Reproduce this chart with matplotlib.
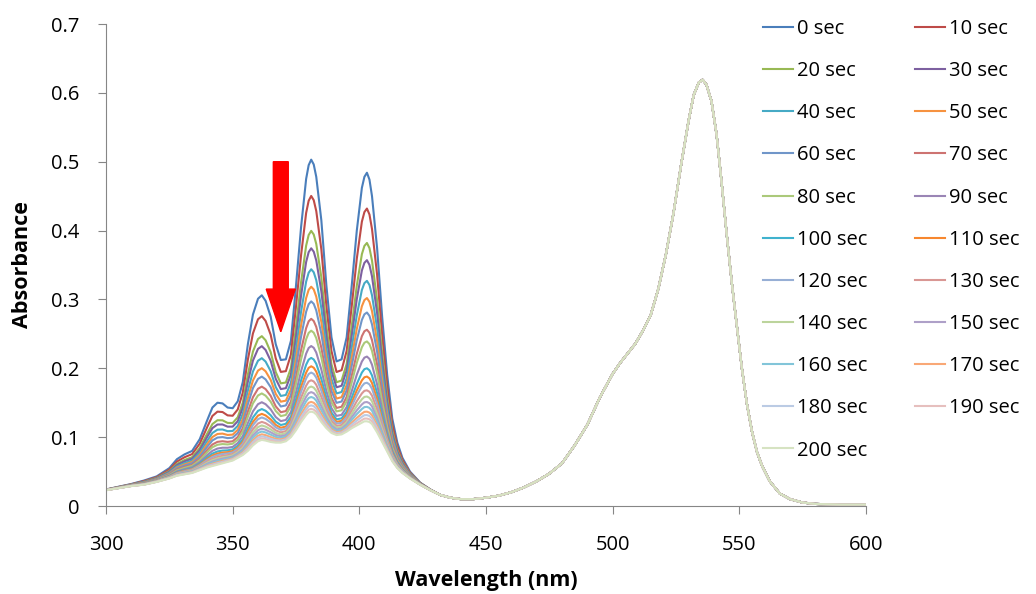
import matplotlib.pyplot as plt
import numpy as np

plt.rcParams['font.family'] = ['Open Sans', 'DejaVu Sans']

# wavelength grid (nm)
wavelength = [300, 305, 310, 315, 320, 325, 328, 331, 334, 337, 340, 342, 344, 346, 348, 350,
              352, 354, 356, 358, 360, 361.5, 363, 365, 367, 369, 371, 373, 375, 377, 379, 380,
              381, 382, 383, 385, 387, 389, 391, 393, 395, 397, 399, 401, 402, 403, 404, 405,
              407, 409, 411, 413, 415, 417, 420, 424, 428, 432, 436, 440, 445, 450, 455, 460,
              465, 470, 475, 480, 485, 490, 495, 500, 503, 506, 509, 512, 515, 518, 521, 524,
              527, 530, 532, 534, 535.5, 537, 539, 541, 543, 545, 547, 549, 551, 553, 555, 557,
              559, 562, 566, 570, 575, 580, 590, 600]

# spectrum at 0 sec
abs_0sec = [0.024, 0.028, 0.032, 0.037, 0.043, 0.055, 0.068, 0.075, 0.080, 0.097, 0.125, 0.143, 0.150, 0.149, 0.143, 0.142,
            0.152, 0.180, 0.235, 0.278, 0.301, 0.306, 0.298, 0.275, 0.235, 0.212, 0.213, 0.240, 0.320, 0.405, 0.475, 0.495,
            0.503, 0.496, 0.478, 0.415, 0.320, 0.245, 0.210, 0.213, 0.245, 0.320, 0.400, 0.462, 0.478, 0.484, 0.474, 0.450,
            0.375, 0.275, 0.190, 0.127, 0.092, 0.070, 0.050, 0.034, 0.024, 0.016, 0.012, 0.010, 0.010, 0.012, 0.015, 0.020,
            0.027, 0.036, 0.047, 0.062, 0.088, 0.118, 0.158, 0.192, 0.208, 0.222, 0.236, 0.255, 0.277, 0.315, 0.365, 0.425,
            0.495, 0.560, 0.597, 0.615, 0.619, 0.612, 0.588, 0.540, 0.470, 0.395, 0.325, 0.262, 0.200, 0.148, 0.108, 0.078,
            0.058, 0.036, 0.018, 0.010, 0.005, 0.003, 0.002, 0.002]

# spectrum at 200 sec
abs_200sec = [0.023, 0.026, 0.029, 0.031, 0.035, 0.040, 0.044, 0.046, 0.048, 0.052, 0.056, 0.058, 0.060, 0.062, 0.064, 0.066,
              0.070, 0.074, 0.080, 0.088, 0.094, 0.096, 0.095, 0.093, 0.092, 0.092, 0.094, 0.100, 0.110, 0.122, 0.132, 0.136,
              0.137, 0.136, 0.133, 0.122, 0.113, 0.106, 0.103, 0.104, 0.108, 0.113, 0.117, 0.121, 0.123, 0.123, 0.122, 0.119,
              0.107, 0.093, 0.079, 0.065, 0.055, 0.048, 0.040, 0.031, 0.023, 0.016, 0.012, 0.010, 0.010, 0.012, 0.015, 0.020,
              0.027, 0.036, 0.047, 0.062, 0.088, 0.118, 0.158, 0.192, 0.208, 0.222, 0.236, 0.255, 0.277, 0.315, 0.365, 0.425,
              0.495, 0.560, 0.597, 0.615, 0.619, 0.612, 0.588, 0.540, 0.470, 0.395, 0.325, 0.262, 0.200, 0.148, 0.108, 0.078,
              0.058, 0.036, 0.018, 0.010, 0.005, 0.003, 0.002, 0.002]

times = [0, 10, 20, 30, 40, 50, 60, 70, 80, 90, 100, 110, 120, 130, 140, 150, 160, 170, 180, 190, 200]
# absorbance of the 403 nm band for each time
peak_403 = [0.484, 0.432, 0.382, 0.357, 0.327, 0.302, 0.281, 0.256, 0.239, 0.217, 0.200,
            0.188, 0.179, 0.168, 0.159, 0.151, 0.144, 0.137, 0.132, 0.127, 0.123]

colors = ['#4A7EBB', '#BE4B48', '#98B954', '#7D60A0', '#46AAC5', '#F69240',
          '#7096C9', '#CD7371', '#ABC97A', '#9A85B5', '#3FB2CE', '#F7872E',
          '#97AFD5', '#D99794', '#BCD49C', '#AEA0C8', '#82C5D9', '#F9A876',
          '#BBCBE4', '#E6BFBE', '#D6E3C2']

x_ticks = [300, 350, 400, 450, 500, 550, 600]
y_ticks = [0, 0.1, 0.2, 0.3, 0.4, 0.5, 0.6, 0.7]
y_labels = ['0', '0.1', '0.2', '0.3', '0.4', '0.5', '0.6', '0.7']

wl = np.array(wavelength)
hi = np.array(abs_0sec)
lo = np.array(abs_200sec)
i403 = wavelength.index(403)

fig = plt.figure(figsize=(10.36, 5.94), dpi=100)
ax = fig.add_axes([106/1036, 1 - 506/594, 760/1036, 482/594])

lines = []
for t, p, c in zip(times, peak_403, colors):
    frac = (p - lo[i403]) / (hi[i403] - lo[i403])
    ln, = ax.plot(wl, lo + (hi - lo) * frac, color=c, lw=1.5, label=str(t) + ' sec')
    lines.append(ln)

ax.arrow(369, 0.50, 0, -0.247, width=5.9, head_width=11.5, head_length=0.062,
         length_includes_head=True, color='#FF0000', zorder=5)

ax.set_xlim(300, 600)
ax.set_ylim(0, 0.7)
ax.set_xticks(x_ticks)
ax.set_yticks(y_ticks)
ax.set_yticklabels(y_labels)
for s in ['top', 'right']:
    ax.spines[s].set_visible(False)
for s in ['left', 'bottom']:
    ax.spines[s].set_color('#868686')
ax.tick_params(axis='both', colors='#868686', labelcolor='black', labelsize=14.5, length=6)
ax.tick_params(axis='y', pad=13)
ax.tick_params(axis='x', pad=15)
ax.set_xlabel('Wavelength (nm)', fontsize=15.5, fontweight='bold', labelpad=11)
ax.set_ylabel('Absorbance', fontsize=15.5, fontweight='bold', labelpad=13)

# Excel fills legend row by row: put even entries in col 1, odd in col 2
order = list(range(0, 21, 2)) + list(range(1, 21, 2))
fig.legend([lines[i] for i in order], [lines[i].get_label() for i in order],
           loc='upper left', bbox_to_anchor=(763/1036, 1 - 19/594), ncol=2,
           frameon=False, fontsize=14.5, handlelength=1.5, handletextpad=0.2,
           labelspacing=1.1, columnspacing=2.35, borderpad=0, borderaxespad=0)

fig.savefig('out.png', dpi=100)
